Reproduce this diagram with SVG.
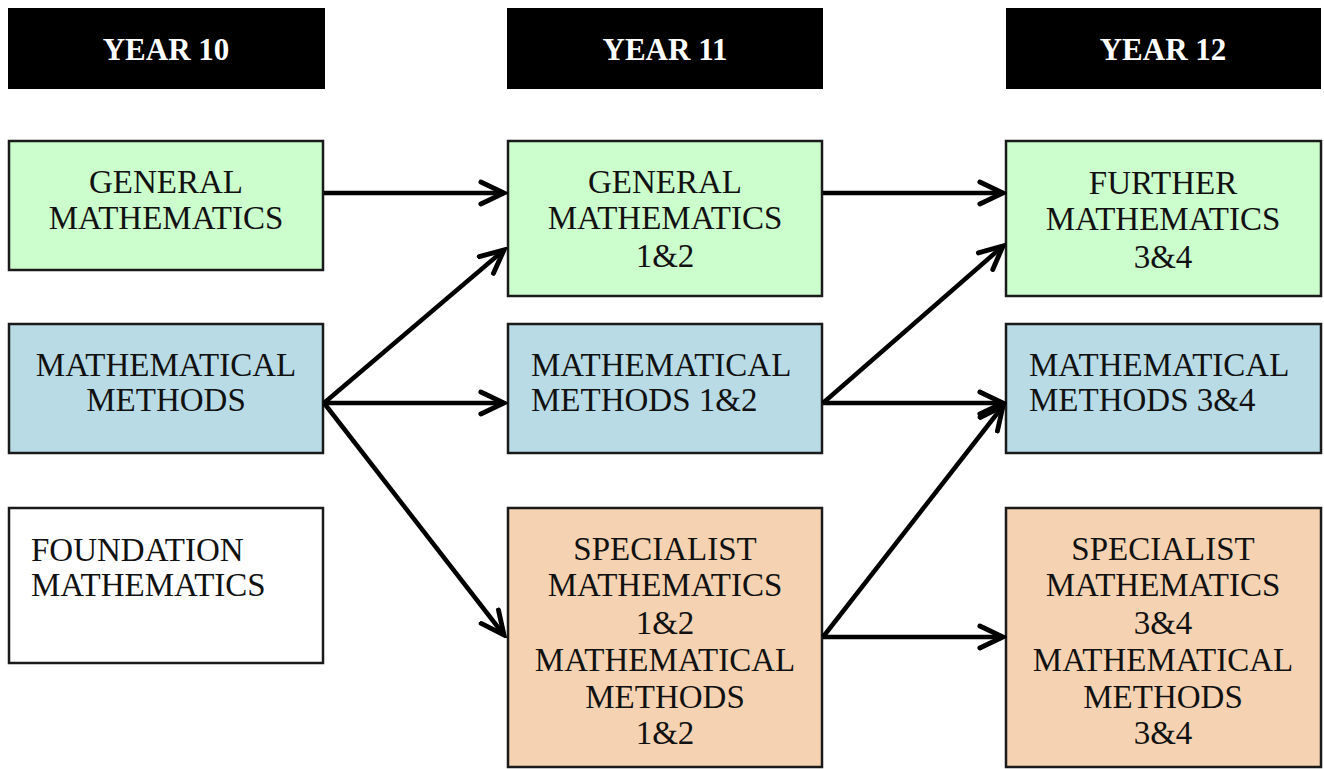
<svg xmlns="http://www.w3.org/2000/svg" width="1324" height="769" viewBox="0 0 1324 769">
<style>
.hdr{fill:#000}
.box{stroke:#1a1a1a;stroke-width:2.5}
.g{fill:#ccfdcc}
.b{fill:#b8dbe6}
.o{fill:#f5d3b2}
.w{fill:#fff}
text{font-family:"Liberation Serif","Times New Roman",serif;font-size:33px;fill:#111}
.ht{font-weight:bold;fill:#fff;font-size:31px}
.c{text-anchor:middle}
.conn line{stroke:#000;stroke-width:4.5;marker-end:url(#arr)}
</style>
<defs>
<marker id="arr" viewBox="0 0 12 12" refX="10.5" refY="6" markerWidth="6.5" markerHeight="6.5" markerUnits="strokeWidth" orient="auto">
<path d="M1,1.5 L10.5,6 L1,10.5" fill="none" stroke="#000" stroke-width="2" stroke-linecap="round" stroke-linejoin="miter"/>
</marker>
</defs>
<g id="h10"><rect class="hdr" x="8" y="8" width="317" height="81"/><text class="ht c" x="166" y="60">YEAR 10</text></g>
<g id="h11"><rect class="hdr" x="507" y="8" width="316" height="81"/><text class="ht c" x="665" y="60">YEAR 11</text></g>
<g id="h12"><rect class="hdr" x="1006" y="8" width="315" height="81"/><text class="ht c" x="1163" y="60">YEAR 12</text></g>

<g id="gm10"><rect class="box g" x="9" y="141" width="314" height="129"/><text class="c" x="166" y="193">GENERAL</text><text class="c" x="166" y="229">MATHEMATICS</text></g>
<g id="mm10"><rect class="box b" x="9" y="324" width="314" height="129"/><text class="c" x="166" y="376">MATHEMATICAL</text><text class="c" x="166" y="411">METHODS</text></g>
<g id="fm10"><rect class="box w" x="9" y="508" width="314" height="155"/><text x="31" y="561">FOUNDATION</text><text x="31" y="596">MATHEMATICS</text></g>

<g id="gm11"><rect class="box g" x="508" y="141" width="314" height="155"/><text class="c" x="665" y="193">GENERAL</text><text class="c" x="665" y="229">MATHEMATICS</text><text class="c" x="665" y="267">1&amp;2</text></g>
<g id="mm11"><rect class="box b" x="508" y="324" width="314" height="129"/><text x="531" y="376">MATHEMATICAL</text><text x="531" y="411">METHODS 1&amp;2</text></g>
<g id="sm11"><rect class="box o" x="508" y="508" width="314" height="259"/><text class="c" x="665" y="560">SPECIALIST</text><text class="c" x="665" y="596">MATHEMATICS</text><text class="c" x="665" y="634">1&amp;2</text><text class="c" x="665" y="671">MATHEMATICAL</text><text class="c" x="665" y="708">METHODS</text><text class="c" x="665" y="744">1&amp;2</text></g>

<g id="fm12"><rect class="box g" x="1006" y="141" width="315" height="155"/><text class="c" x="1163" y="194">FURTHER</text><text class="c" x="1163" y="230">MATHEMATICS</text><text class="c" x="1163" y="268">3&amp;4</text></g>
<g id="mm12"><rect class="box b" x="1006" y="324" width="315" height="129"/><text x="1029" y="376">MATHEMATICAL</text><text x="1029" y="411">METHODS 3&amp;4</text></g>
<g id="sm12"><rect class="box o" x="1006" y="508" width="315" height="259"/><text class="c" x="1163" y="560">SPECIALIST</text><text class="c" x="1163" y="596">MATHEMATICS</text><text class="c" x="1163" y="634">3&amp;4</text><text class="c" x="1163" y="671">MATHEMATICAL</text><text class="c" x="1163" y="708">METHODS</text><text class="c" x="1163" y="744">3&amp;4</text></g>

<g id="connectors" class="conn">
<line x1="324" y1="193" x2="504" y2="193"/>
<line x1="823" y1="193" x2="1003" y2="193"/>
<line x1="324" y1="403" x2="504" y2="250"/>
<line x1="324" y1="403" x2="504" y2="403"/>
<line x1="324" y1="403" x2="504" y2="635"/>
<line x1="823" y1="403" x2="1003" y2="246"/>
<line x1="823" y1="403" x2="1003" y2="403"/>
<line x1="823" y1="637" x2="1003" y2="406"/>
<line x1="823" y1="637" x2="1003" y2="637"/>
</g>
</svg>
